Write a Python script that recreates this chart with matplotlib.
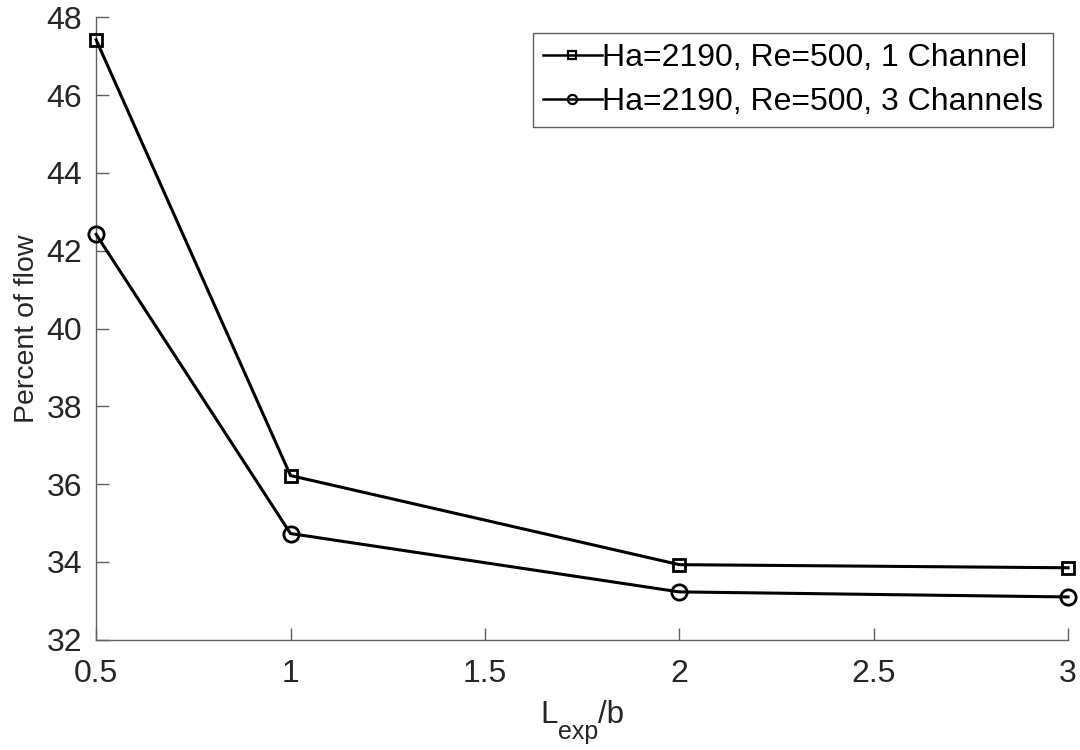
import numpy as np
import matplotlib.pyplot as plt

plt.rcParams['font.family'] = ['Liberation Sans', 'DejaVu Sans']

# data
L_exp = [0.5, 1, 2, 3]
one_channel = [47.42, 36.22, 33.93, 33.85]
three_channels = [42.42, 34.73, 33.23, 33.10]
labels = ['Ha=2190, Re=500, 1 Channel', 'Ha=2190, Re=500, 3 Channels']

fig = plt.figure(figsize=(10.8, 7.5), dpi=100)
ax = fig.add_axes([0.089, 0.147, 0.9, 0.83])

ax.plot(L_exp, one_channel, 'k-s', lw=2.2, ms=9, mew=2, mfc='none',
        label=labels[0], clip_on=False, zorder=3)
ax.plot(L_exp, three_channels, 'k-o', lw=2.2, ms=11, mew=2, mfc='none',
        label=labels[1], clip_on=False, zorder=3)

ax.set_xlim(0.5, 3)
ax.set_ylim(32, 48)
ax.set_xticks([0.5, 1, 1.5, 2, 2.5, 3])
ax.set_xticklabels(['0.5', '1', '1.5', '2', '2.5', '3'])
ax.set_yticks(np.arange(32, 49, 2))

for s in ['top', 'right']:
    ax.spines[s].set_visible(False)
for s in ['left', 'bottom']:
    ax.spines[s].set_color('#606060')
    ax.spines[s].set_linewidth(1.0)
ax.tick_params(direction='in', length=9, width=1, colors='#606060',
               labelcolor='#262626', labelsize=23)
ax.tick_params(axis='y', pad=10)
ax.tick_params(axis='x', pad=14)

ax.set_ylabel('Percent of flow', fontsize=20.5, color='#262626', labelpad=5)

# x label L_exp/b, subscript built by hand (MATLAB-like look)
tL = fig.text(0, 27 / 750, 'L', fontsize=22.5, color='#262626', va='baseline')
te = ax.annotate('exp', xy=(1, 0), xycoords=tL, xytext=(0, -10),
                 textcoords='offset points', fontsize=18, color='#262626',
                 va='bottom', ha='left', annotation_clip=False)
tb = ax.annotate('/b', xy=(1, 0), xycoords=(te, tL), fontsize=22.5,
                 color='#262626', va='bottom', ha='left', annotation_clip=False)
fig.canvas.draw()
r = fig.canvas.get_renderer()
x0 = tL.get_window_extent(r).x0
x1 = tb.get_window_extent(r).x1
axbb = ax.get_window_extent(r)
cx = (axbb.x0 + axbb.x1) / 2
tL.set_x((cx - (x1 - x0) / 2) / fig.bbox.width)

leg = ax.legend(loc='upper right', bbox_to_anchor=(0.9846, 0.9743), fontsize=23,
                fancybox=False, framealpha=1, edgecolor='#606060',
                handlelength=1.85, handletextpad=0.0, borderpad=0.32,
                labelspacing=0.42, borderaxespad=0, markerscale=0.6)
leg.get_frame().set_linewidth(1.0)
for h in leg.get_lines():
    h.set_linewidth(1.8)
    h.set_markeredgewidth(1.6)

fig.savefig('out.png', dpi=100)
